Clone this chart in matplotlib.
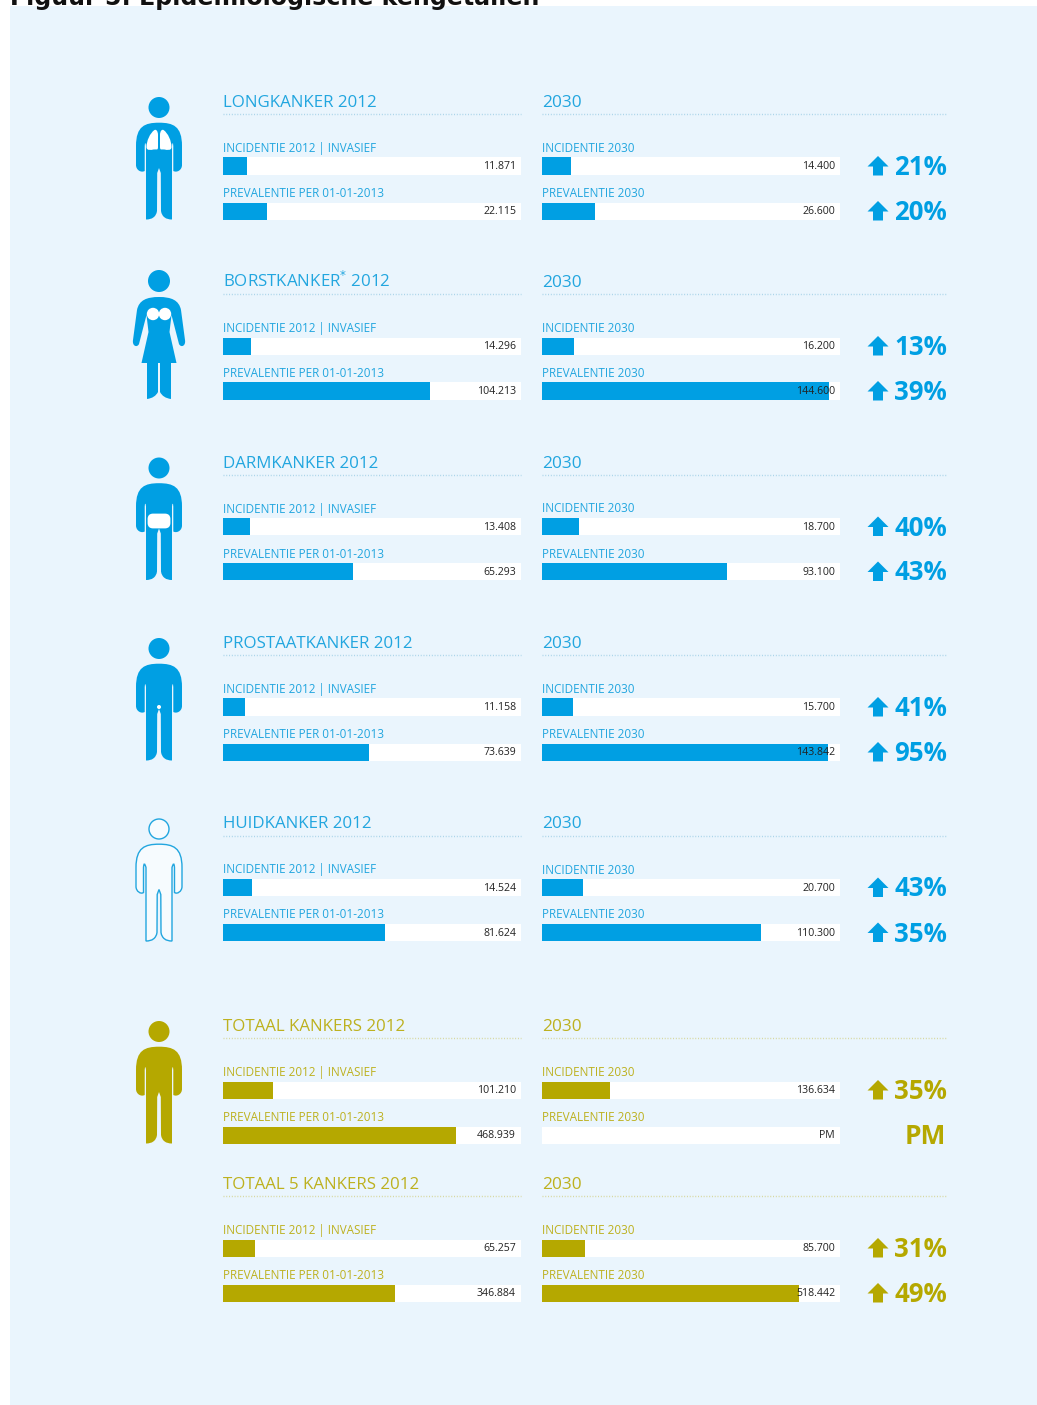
import matplotlib
matplotlib.use("Agg")
import matplotlib.pyplot as plt
from matplotlib.path import Path
from matplotlib.patches import PathPatch, Circle, Rectangle, Polygon, FancyBboxPatch

W, H = 1037, 1405
BLUE = "#009FE3"; OLIVE = "#B5A800"
BLUE_T = "#22A6DF"; OLIVE_T = "#BDB11F"
PANEL = "#EAF5FD"

names = ["LONGKANKER 2012", "BORSTKANKER$^{*}$ 2012", "DARMKANKER 2012", "PROSTAATKANKER 2012",
         "HUIDKANKER 2012", "TOTAAL KANKERS 2012", "TOTAAL 5 KANKERS 2012"]
inc_2012 = [11871, 14296, 13408, 11158, 14524, 101210, 65257]
prev_2012 = [22115, 104213, 65293, 73639, 81624, 468939, 346884]
inc_2030 = [14400, 16200, 18700, 15700, 20700, 136634, 85700]
prev_2030 = [26600, 144600, 93100, 143842, 110300, None, 518442]
pct_inc = [21, 13, 40, 41, 43, 35, 31]
pct_prev = [20, 39, 43, 95, 35, None, 49]
axis_max = [150000, 150000, 150000, 150000, 150000, 600000, 600000]
title_y = [101, 281, 461.5, 642, 822.5, 1025, 1183]
icons = ["lung", "breast", "colon", "prostate", "skin", "total", None]

fig = plt.figure(figsize=(W / 100, H / 100), dpi=100, facecolor="white")
bg = fig.add_axes([0, 0, 1, 1]); bg.set_xlim(0, W); bg.set_ylim(H, 0); bg.axis("off")
bg.add_patch(Rectangle((10, 6), 1027, 1399, fc=PANEL, ec="none"))
bg.text(10, 5, "Figuur 5: Epidemiologische kengetallen", family="DejaVu Sans", weight="bold",
        fontsize=17.1, color="#111111", ha="left", va="baseline")
FONT = "Open Sans"


def fmt(v):
    return f"{v:,}".replace(",", ".")


def man_path(cx, arm=14.3):
    half = [
        (Path.CURVE4, (14, 122.7)), (Path.CURVE4, (23, 126)), (Path.CURVE4, (23, 146)),
        (Path.LINETO, (23, 165)),
        (Path.CURVE4, (23, 170)), (Path.CURVE4, (18, 173)), (Path.CURVE4, (arm, 171)),
        (Path.LINETO, (arm, 146)),
        (Path.CURVE3, (arm - 0.5, 139)), (Path.CURVE3, (13, 146)),
        (Path.LINETO, (13, 219.5)),
        (Path.CURVE4, (7, 219.5)), (Path.CURVE4, (3, 217)), (Path.CURVE4, (2, 211)),
        (Path.LINETO, (1.8, 173)),
        (Path.CURVE3, (0, 168)), (Path.CURVE3, (0, 168)),
    ]
    return build(half, cx, 122.7)


def woman_path(cx):
    half = [
        (Path.CURVE4, (12, 297)), (Path.CURVE4, (20, 300)), (Path.CURVE4, (22, 310)),
        (Path.LINETO, (26, 340)),
        (Path.CURVE4, (27, 346)), (Path.CURVE4, (22, 348)), (Path.CURVE4, (20, 344)),
        (Path.LINETO, (12.5, 315)),
        (Path.LINETO, (10.5, 332)),
        (Path.LINETO, (17.5, 363)),
        (Path.LINETO, (12, 363)),
        (Path.LINETO, (12, 399)),
        (Path.CURVE3, (4, 398)), (Path.CURVE3, (1, 392)),
        (Path.LINETO, (1, 363)),
        (Path.LINETO, (0, 363)),
    ]
    return build(half, cx, 297)


def build(half, cx, top):
    verts = [(cx, top)]; codes = [Path.MOVETO]
    for c, (dx, y) in half:
        verts.append((cx + dx, y)); codes.append(c)
    pts = [(0, top)] + [p for _, p in half]
    cds = [c for c, _ in half]
    i = len(half) - 1
    while i >= 0:
        c = cds[i]
        n = {Path.LINETO: 1, Path.CURVE3: 2, Path.CURVE4: 3}[c]
        seg = pts[i + 1 - n: i + 1]
        for dx, y in reversed(seg):
            verts.append((cx - dx, y)); codes.append(c)
        i -= n
    return Path(verts, codes)


def lung(cx, s):
    v = [(cx + s * 1, 135), (cx + s * 1, 131), (cx + s * 3, 129), (cx + s * 4.5, 130),
         (cx + s * 9, 133), (cx + s * 12.5, 141), (cx + s * 12.5, 147),
         (cx + s * 12.5, 151), (cx + s * 8, 150), (cx + s * 5.5, 149.5),
         (cx + s * 3, 149), (cx + s * 1, 151), (cx + s * 1, 147),
         (cx + s * 1, 135)]
    c = [Path.MOVETO] + [Path.CURVE4] * 12 + [Path.LINETO]
    return Path(v, c)


def person(kind, dy):
    cx = 159
    ax = bg
    if kind == "breast":
        ax.add_patch(Circle((cx, 281), 11, fc=BLUE, ec="none"))
        ax.add_patch(PathPatch(woman_path(cx), fc=BLUE, ec="none"))
        for s in (-1, 1):
            ax.add_patch(Circle((cx + s * 6, 314), 6.2, fc="white", ec="none"))
        return
    def sh(p):
        return Path([(x, y + dy) for x, y in p.vertices], p.codes)
    if kind == "skin":
        ax.add_patch(Circle((cx, 107.5 + dy), 10, fc="#F6FBFE", ec=BLUE_T, lw=1.0))
        ax.add_patch(PathPatch(sh(man_path(cx, arm=15.5)), fc="#F6FBFE", ec=BLUE_T, lw=1.0))
        return
    col = OLIVE if kind == "total" else BLUE
    ax.add_patch(Circle((cx, 107.5 + dy), 10.5, fc=col, ec="none"))
    ax.add_patch(PathPatch(sh(man_path(cx)), fc=col, ec="none"))
    if kind == "lung":
        for s in (-1, 1):
            ax.add_patch(PathPatch(lung(cx, s), fc="white", ec="none"))
    if kind == "colon":
        ax.add_patch(FancyBboxPatch((cx - 10, 515), 20, 12, boxstyle="round,pad=0,rounding_size=4",
                                    fc="white", ec="white", lw=2))
    if kind == "prostate":
        ax.add_patch(Circle((cx, 707), 2, fc="white", ec="none"))


def bar(x0, yc, value, label, amax, col):
    w = 298; h = 17
    ax = fig.add_axes([x0 / W, 1 - (yc + h / 2) / H, w / W, h / H], facecolor="white")
    if value is not None:
        ax.barh([0], [value], height=1, color=col, align="center")
    ax.set_xlim(0, amax); ax.set_ylim(-0.5, 0.5)
    ax.set_xticks([]); ax.set_yticks([])
    for s in ax.spines.values():
        s.set_visible(False)
    ax.text((w - 5) / w, 0.46, label, transform=ax.transAxes, ha="right", va="center",
            family=FONT, fontsize=7.6, color="#222222")


def up_arrow(yc, col):
    x = 878
    pts = [(x, yc - 10), (x + 10.5, yc + 0.5), (x + 5, yc + 0.5), (x + 5, yc + 9.5),
           (x - 5, yc + 9.5), (x - 5, yc + 0.5), (x - 10.5, yc + 0.5)]
    bg.add_patch(Polygon(pts, closed=True, fc=col, ec="none"))


for i, name in enumerate(names):
    y = title_y[i]
    total = i >= 5
    col = OLIVE if total else BLUE
    tcol = OLIVE_T if total else BLUE_T
    if icons[i]:
        person(icons[i], y - 101)
    bg.text(223, y + 6, name, family=FONT, fontsize=12.2, color=tcol, va="baseline", ha="left")
    bg.text(542, y + 6, "2030", family=FONT, fontsize=12.4, color=tcol, va="baseline", ha="left")
    for a, b in ((223, 521), (542, 946)):
        bg.plot([a, b], [y + 13, y + 13], ls=(0, (0.7, 1.3)), lw=1.0, color="#A8D3E8" if not total else "#D6D69A")
    bg.text(223, y + 51, "INCIDENTIE 2012 | INVASIEF", family=FONT, fontsize=8.4, color=tcol, va="baseline")
    bg.text(223, y + 96, "PREVALENTIE PER 01-01-2013", family=FONT, fontsize=8.5, color=tcol, va="baseline")
    bg.text(542, y + 51, "INCIDENTIE 2030", family=FONT, fontsize=8.5, color=tcol, va="baseline")
    bg.text(542, y + 96, "PREVALENTIE 2030", family=FONT, fontsize=8.5, color=tcol, va="baseline")
    bar(223, y + 65, inc_2012[i], fmt(inc_2012[i]), axis_max[i], col)
    bar(223, y + 110, prev_2012[i], fmt(prev_2012[i]), axis_max[i], col)
    bar(542, y + 65, inc_2030[i], fmt(inc_2030[i]), axis_max[i], col)
    bar(542, y + 110, prev_2030[i], fmt(prev_2030[i]) if prev_2030[i] else "PM", axis_max[i], col)
    for pct, off in ((pct_inc[i], 65), (pct_prev[i], 110)):
        if pct is None:
            bg.text(946, y + off - 1, "PM", family=FONT, weight="bold", fontsize=19, color=col, ha="right", va="center_baseline")
        else:
            up_arrow(y + off, col)
            bg.text(947, y + off - 1.5, f"{pct}%", family=FONT, weight="bold", fontsize=18.6, color=col, ha="right", va="center_baseline")

fig.savefig("out.png", dpi=100, facecolor="white")
